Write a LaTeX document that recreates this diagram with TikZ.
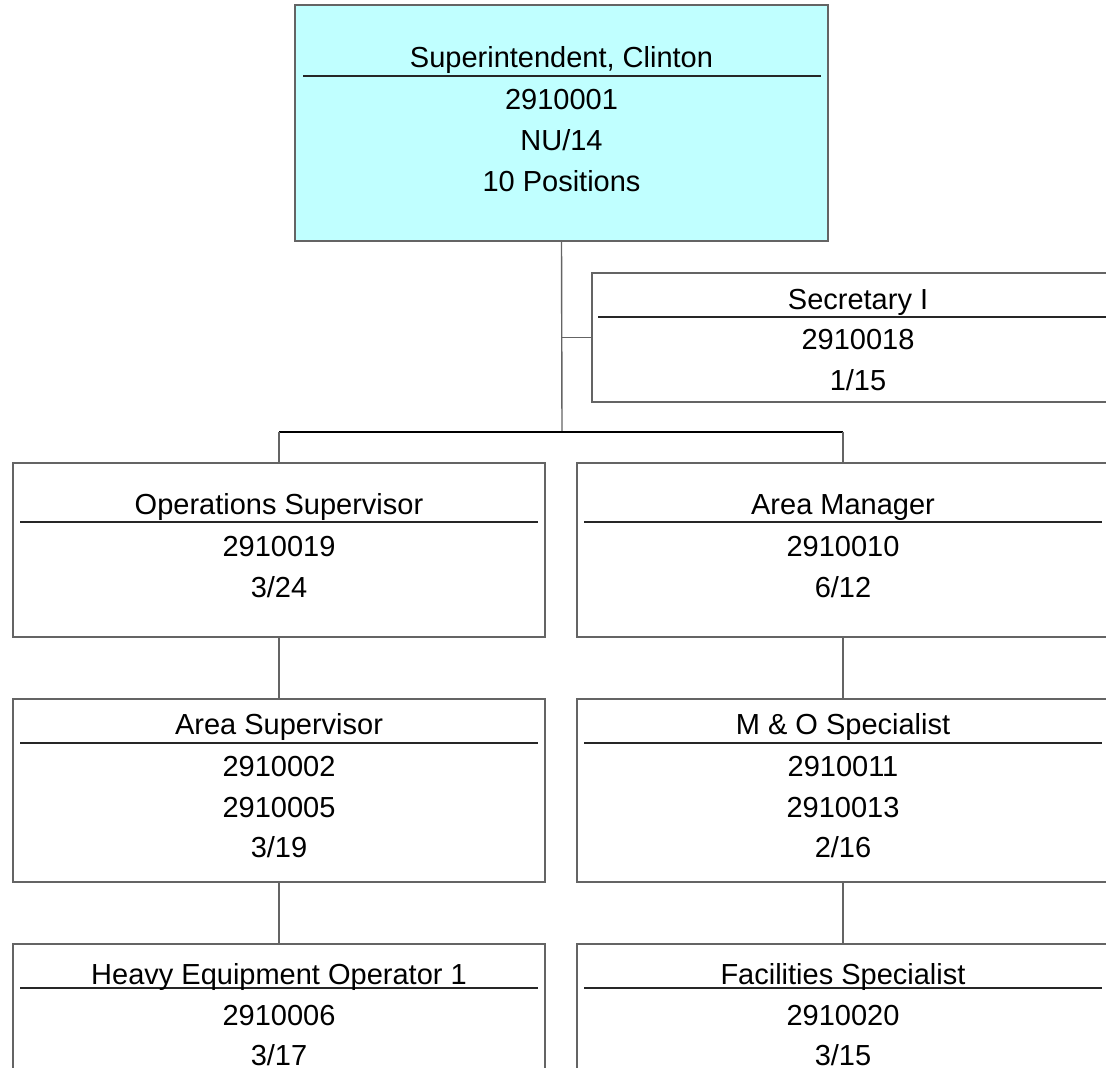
\documentclass[tikz,border=0pt]{standalone}
\usepackage{fontspec}
\setmainfont{Liberation Sans}
\definecolor{boxcyan}{RGB}{192,255,255}
\definecolor{framegray}{RGB}{100,100,100}
\begin{document}
\begin{tikzpicture}[x=0.5pt,y=-0.5pt,
    posbox/.style={draw=framegray,line width=0.7pt,minimum width=266pt,inner sep=0pt},
    txt/.style={anchor=base,inner sep=0pt,font=\fontsize{14.5}{17}\selectfont},
    sepline/.style={line width=0.6pt,black!85},
    link/.style={line width=0.7pt,framegray},
    busline/.style={line width=0.7pt,black}]
  \useasboundingbox (0,0) rectangle (1106,1068);
  \clip (0,0) rectangle (1106,1068);
  % boxes
  \node[posbox,fill=boxcyan,minimum width=266.5pt,minimum height=118pt] (sup) at (561.5,123) {};
  \node[posbox,minimum height=64.5pt] (sec) at (858,337.5) {};
  \node[posbox,minimum height=87pt] (ops) at (279,550) {};
  \node[posbox,minimum height=87pt] (amgr) at (843,550) {};
  \node[posbox,minimum height=91.5pt] (asup) at (279,790.5) {};
  \node[posbox,minimum height=91.5pt] (mos) at (843,790.5) {};
  \node[posbox,minimum height=100pt] (heo) at (279,1044) {};
  \node[posbox,minimum height=100pt] (fac) at (843,1044) {};
  % separators
  \draw[sepline] (303,76) -- (821,76);
  \draw[sepline] (598,317) -- (1117,317);
  \draw[sepline] (20,522) -- (538,522);
  \draw[sepline] (584,522) -- (1102,522);
  \draw[sepline] (20,743) -- (538,743);
  \draw[sepline] (584,743) -- (1102,743);
  \draw[sepline] (20,988) -- (538,988);
  \draw[sepline] (584,988) -- (1102,988);
  % texts
  \node[txt] (sup-t) at (561.5,68) {Superintendent, Clinton};
  \node[txt] (sup-a) at (561.5,110) {2910001};
  \node[txt] (sup-b) at (561.5,151) {NU/14};
  \node[txt] (sup-c) at (561.5,192) {10 Positions};
  \node[txt] (sec-t) at (858,310) {Secretary I};
  \node[txt] (sec-a) at (858,350) {2910018};
  \node[txt] (sec-b) at (858,391) {1/15};
  \node[txt] (ops-t) at (279,515) {Operations Supervisor};
  \node[txt] (ops-a) at (279,556) {2910019};
  \node[txt] (ops-b) at (279,597) {3/24};
  \node[txt] (amgr-t) at (843,515) {Area Manager};
  \node[txt] (amgr-a) at (843,556) {2910010};
  \node[txt] (amgr-b) at (843,597) {6/12};
  \node[txt] (asup-t) at (279,734) {Area Supervisor};
  \node[txt] (asup-a) at (279,776) {2910002};
  \node[txt] (asup-b) at (279,817) {2910005};
  \node[txt] (asup-c) at (279,857) {3/19};
  \node[txt] (mos-t) at (843,734) {M \& O Specialist};
  \node[txt] (mos-a) at (843,776) {2910011};
  \node[txt] (mos-b) at (843,817) {2910013};
  \node[txt] (mos-c) at (843,857) {2/16};
  \node[txt] (heo-t) at (279,984) {Heavy Equipment Operator 1};
  \node[txt] (heo-a) at (279,1025) {2910006};
  \node[txt] (heo-b) at (279,1065) {3/17};
  \node[txt] (fac-t) at (843,984) {Facilities Specialist};
  \node[txt] (fac-a) at (843,1025) {2910020};
  \node[txt] (fac-b) at (843,1065) {3/15};
  % connectors
  \coordinate (bus) at (562,432);
  \coordinate (busL) at (279,432);
  \coordinate (busR) at (843,432);
  \draw[link] (sup.south) -- (bus);
  \draw[link] (sup.south |- sec.west) -- (sec.west);
  \draw[busline] (busL) -- (busR);
  \draw[link] (busL) -- (ops.north);
  \draw[link] (busR) -- (amgr.north);
  \draw[link] (ops.south) -- (asup.north);
  \draw[link] (amgr.south) -- (mos.north);
  \draw[link] (asup.south) -- (heo.north);
  \draw[link] (mos.south) -- (fac.north);
\end{tikzpicture}
\end{document}
